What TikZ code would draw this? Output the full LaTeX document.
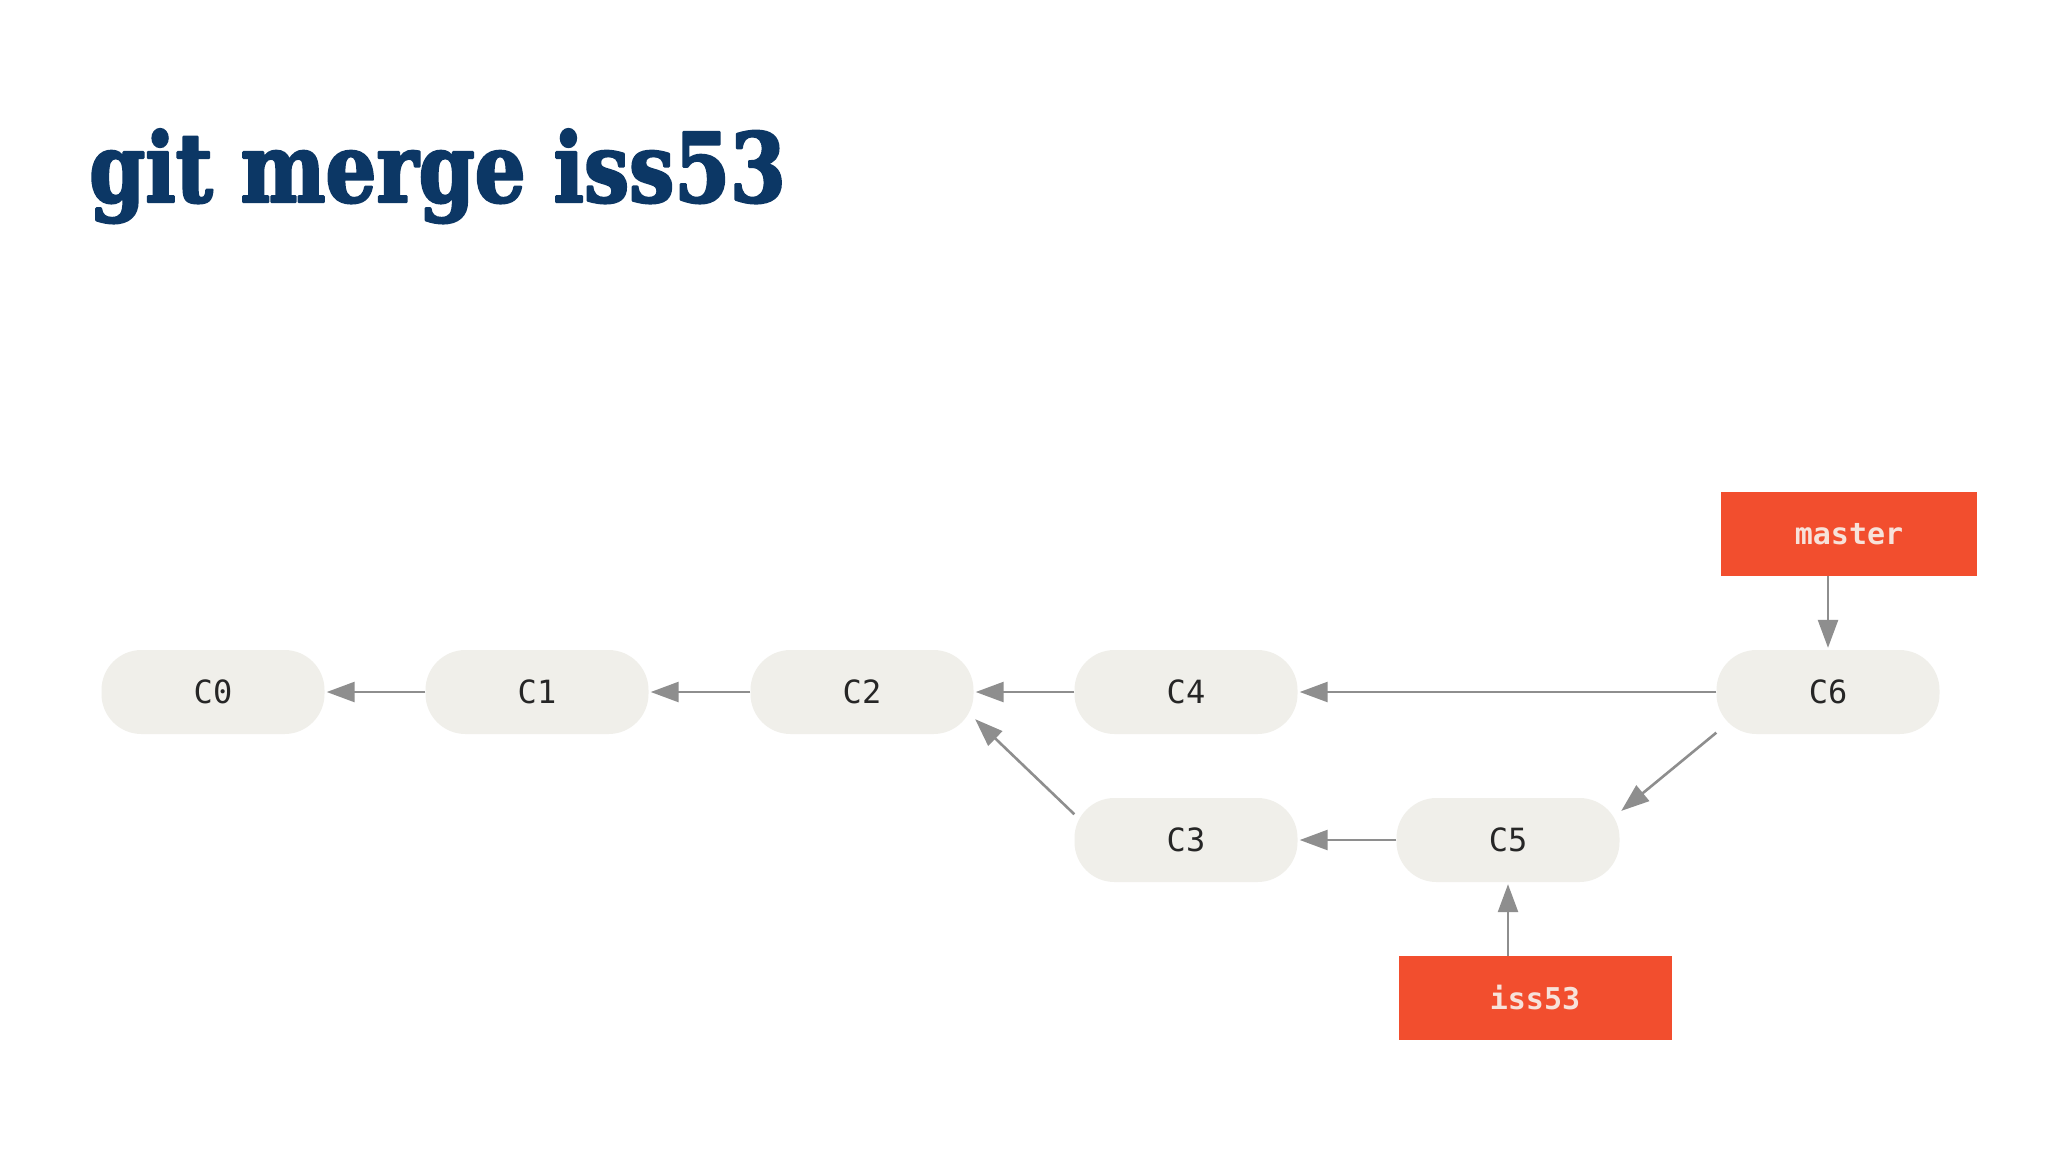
\documentclass[tikz,border=0pt]{standalone}
\usepackage{fontspec}
\setmonofont{DejaVu Sans Mono}
\newfontfamily\titlefont[FakeStretch=0.835, BoldFeatures={FakeBold=2.5}]{DejaVu Serif}
\usetikzlibrary{arrows.meta}
\definecolor{titleblue}{HTML}{0C3765}
\definecolor{commitgray}{HTML}{F0EFEA}
\definecolor{branchred}{HTML}{F24E2E}
\definecolor{branchtext}{HTML}{F7E2DA}
\definecolor{linkgray}{HTML}{8E8E8E}
\tikzset{
  commit/.style={fill=commitgray, rounded corners=40pt, minimum width=223pt, minimum height=84pt,
    inner sep=0pt, font=\fontsize{32}{36}\selectfont\ttfamily, text=black!85},
  branch/.style={fill=branchred, minimum height=84pt, inner sep=0pt,
    font=\fontsize{30}{34}\selectfont\ttfamily\bfseries, text=branchtext},
  link/.style={draw=linkgray, line width=2.6pt, -{Triangle[length=28pt,width=20pt]}, shorten >=2pt}
}
\begin{document}
\begin{tikzpicture}[x=1pt, y=-1pt, line join=round]
            \useasboundingbox[fill=white] (0,0) rectangle (2048,1152);
            \node[anchor=base west, inner sep=0pt, text=titleblue,
                font=\fontsize{96}{110}\selectfont\titlefont\bfseries] (title) at (89,202) {git merge iss53};
            % commits
            \node[commit] (c0) at (213,692) {C0};
            \node[commit] (c1) at (537,692) {C1};
            \node[commit] (c2) at (862,692) {C2};
            \node[commit] (c4) at (1186,692) {C4};
            \node[commit] (c6) at (1828,692) {C6};
            \node[commit] (c3) at (1186,840) {C3};
            \node[commit] (c5) at (1508,840) {C5};
            % branches
            \node[branch, minimum width=256pt] (master) at (1849,534) {master};
            \node[branch, minimum width=273pt] (iss53) at (1535,998) {iss53};
            % parents
            \draw[link] (c1.west) -- (c0.east);
            \draw[link] (c2.west) -- (c1.east);
            \draw[link] (c4.west) -- (c2.east);
            \draw[link] (c6.west) -- (c4.east);
            \draw[link] (c3.167) -- (c2.-13);
            \draw[link] (c5.west) -- (c3.east);
            \draw[link] (c6.200) -- (c5.14);
            \draw[link] (master.south -| c6.north) -- (c6.north);
            \draw[link] (iss53.north -| c5.south) -- (c5.south);
    \end{tikzpicture}
\end{document}
